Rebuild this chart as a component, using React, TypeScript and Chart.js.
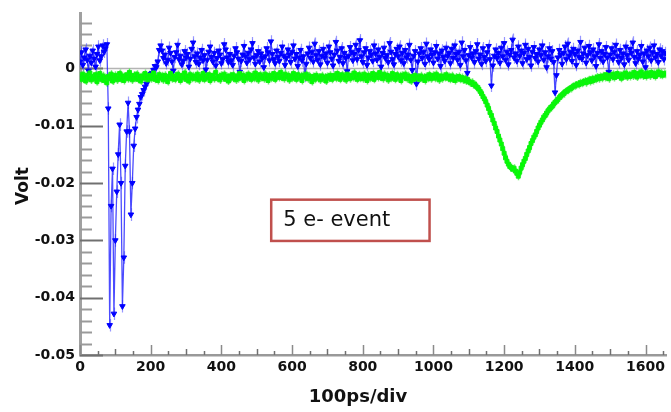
import React, { useEffect, useRef } from "react";
import { Chart, registerables } from "chart.js";

Chart.register(...registerables);

// sampling interval of the traces (x units, 100ps/div scale)
const TIME_STEP = 4;
const X_MIN = 0;
const X_MAX = 1658;
const Y_MIN = -0.05;
const Y_MAX = 0.0096;

const xTickValues = [0, 200, 400, 600, 800, 1000, 1200, 1400, 1600];
const yTickValues = [0, -0.01, -0.02, -0.03, -0.04, -0.05];

const xTitle = "100ps/div";
const yTitle = "Volt";
const annotationText = "5 e- event";

// half-height of the error bars drawn on each sample (Volt)
const blueError = 0.0011;
const greenError = 0.0007;

// blue trace (Volt), one value per TIME_STEP starting at x = 0
const blueVolts = [
  // 0 - 76
  0.0012, 0.0028, 0.0006, 0.0019, 0.0033, 0.0015, -0.0004, 0.0022, 0.001, 0.0031,
  0.0017, 0.0003, 0.0025, 0.0038, 0.0014, 0.0021, 0.004, 0.0029, 0.0035, 0.0042,
  // 80 - 228 (pulse)
  -0.007, -0.0448, -0.024, -0.0175, -0.0428, -0.03, -0.0215, -0.015, -0.0098, -0.02,
  -0.0415, -0.033, -0.017, -0.011, -0.006, -0.011, -0.0255, -0.02, -0.0135, -0.0105,
  -0.0085, -0.0072, -0.0062, -0.005, -0.0045, -0.0038, -0.0032, -0.0027, -0.002, -0.0015,
  -0.001, -0.0008, -0.0003, 0.0004, 0.0002, 0.0012, 0.0032, 0.004,
  // 232 - 1656
  0.0031, 0.0018, 0.0024, 0.0009, 0.0015, 0.0036, 0.0027, 0.0012, -0.0004, 0.002,
  0.0028, 0.0041, 0.0016, 0.0022, 0.0007, 0.0013, 0.003, 0.0019, 0.0025, 0.0003,
  0.0017, 0.0034, 0.0045, 0.0021, 0.0011, 0.0026, 0.0008, 0.0019, 0.0032, 0.0014,
  0.0023, -0.0002, 0.0015, 0.0029, 0.0038, 0.002, 0.0012, 0.0027, 0.0005, 0.0018,
  0.0031, 0.0024, 0.0009, 0.0016, 0.0042, 0.0033, 0.0019, 0.0011, 0.0025, 0.0014,
  0.0006, 0.0022, 0.0035, 0.0028, 0.0017, -0.0006, 0.0013, 0.0024, 0.0039, 0.0021,
  0.001, 0.0027, 0.0016, 0.0033, 0.0044, 0.0019, 0.0008, 0.0023, 0.003, 0.0012,
  0.0026, 0.0018, 0.0002, 0.0021, 0.0035, 0.0028, 0.0014, 0.0047, 0.0025, 0.0016,
  0.0009, 0.0031, 0.002, 0.0013, 0.0027, 0.0038, 0.0022, 0.0006, 0.0018, 0.0033,
  0.0024, 0.0011, 0.0029, 0.004, 0.0017, 0.0025, 0.0004, 0.0019, 0.0032, 0.0014,
  0.0021, -0.0013, 0.0008, 0.0026, 0.0036, 0.0018, 0.0029, 0.0012, 0.0043, 0.0023,
  0.0015, 0.003, 0.0007, 0.0022, 0.0034, 0.0019, 0.0026, 0.001, 0.0038, 0.0028,
  0.0017, 0.0005, 0.0024, 0.0046, 0.0031, 0.0013, 0.002, 0.0035, 0.0009, 0.0027,
  0.0018, -0.0005, 0.0022, 0.0037, 0.0029, 0.0014, 0.0025, 0.0041, 0.0016, 0.0032,
  0.0049, 0.0021, 0.0011, 0.0028, 0.0035, 0.0006, 0.0019, 0.003, 0.0024, 0.0013,
  0.004, 0.0026, 0.0015, 0.0033, 0.002, 0.0003, 0.0027, 0.0036, 0.0018, 0.0023,
  0.0011, 0.0044, 0.0029, 0.0016, 0.0007, 0.0025, 0.0034, 0.0021, 0.0038, 0.0014,
  0.0027, 0.0009, 0.0032, 0.0019, 0.0024, 0.0041, 0.0015, -0.0003, 0.0022, 0.003,
  -0.0027, 0.0012, 0.0026, 0.0035, 0.0018, 0.0029, 0.0008, 0.0043, 0.0021, 0.0016,
  0.0033, 0.0024, 0.001, 0.0028, 0.0039, 0.0017, 0.0026, 0.0004, 0.0031, 0.002,
  0.0013, 0.0036, 0.0022, 0.0027, 0.0009, 0.0034, 0.0018, 0.004, 0.0025, 0.0015,
  0.0029, 0.0006, 0.0045, 0.0021, 0.0032, 0.0014, -0.0008, 0.0023, 0.0037, 0.0019,
  0.0026, 0.0011, 0.003, 0.0042, 0.0017, 0.0024, 0.0008, 0.0035, 0.002, 0.0013,
  0.0028, 0.0039, 0.0016, -0.003, 0.0005, 0.0022, 0.0033, 0.0018, 0.0027, 0.001,
  0.0036, 0.0021, 0.0044, 0.0015, 0.0029, 0.0007, 0.0024, 0.0032, 0.005, 0.0019,
  0.0026, 0.0013, 0.0038, 0.0022, 0.0031, 0.0009, 0.0027, 0.0041, 0.0016, 0.0034,
  0.002, 0.0005, 0.0029, 0.0037, 0.0018, 0.0025, 0.0012, 0.0033, 0.0023, 0.004,
  0.0015, 0.0028, 0.0002, 0.0021, 0.0035, 0.0017, 0.003, 0.0011, -0.0042, -0.0012,
  0.0019, 0.0032, 0.0024, 0.0008, 0.0027, 0.0038, 0.0016, 0.0043, 0.0022, 0.0029,
  0.0013, 0.0034, 0.0025, 0.0006, 0.0031, 0.002, 0.0046, 0.0017, 0.0026, 0.0036,
  0.001, 0.0023, 0.0039, 0.0028, 0.0014, 0.0033, 0.0021, 0.0004, 0.0027, 0.0042,
  0.0018, 0.003, 0.0012, 0.0025, 0.0037, 0.0019, -0.0006, 0.0024, 0.0035, 0.0016,
  0.0029, 0.0041, 0.0022, 0.0011, 0.0032, 0.0018, 0.0026, 0.0007, 0.0038, 0.0023,
  0.0015, 0.0034, 0.0027, 0.0045, 0.002, 0.0009, 0.003, 0.0017, 0.0024, 0.0039,
  0.0012, 0.0026, 0.0002, 0.0031, 0.0021, 0.0036, 0.0014, 0.0028, 0.004, 0.0019,
  0.0025, 0.0011, 0.0033, 0.0022, 0.003, 0.0016, 0.0027,
];

// green trace (Volt), one value per TIME_STEP starting at x = 0
const greenVolts = [
  -0.0013, -0.0019, -0.001, -0.0016, -0.0022, -0.0012, -0.0017, -0.0008, -0.002, -0.0014,
  -0.0018, -0.0011, -0.0023, -0.0015, -0.0009, -0.0019, -0.0013, -0.0021, -0.0016, -0.0025,
  -0.0014, -0.0018, -0.001, -0.0022, -0.0015, -0.0012, -0.002, -0.0017, -0.0009, -0.0019,
  -0.0013, -0.0021, -0.0016, -0.0011, -0.0018, -0.0007, -0.0015, -0.002, -0.0012, -0.0017,
  -0.001, -0.0019, -0.0014, -0.0022, -0.0013, -0.0017, -0.0009, -0.0016, -0.002, -0.0012,
  -0.0018, -0.0014, -0.0008, -0.0019, -0.0015, -0.0021, -0.0011, -0.0017, -0.0013, -0.002,
  -0.0012, -0.0016, -0.0023, -0.0014, -0.0009, -0.0018, -0.0013, -0.0019, -0.0015, -0.001,
  -0.0017, -0.0021, -0.0012, -0.0016, -0.0008, -0.0019, -0.0014, -0.0022, -0.0011, -0.0017,
  -0.0013, -0.0018, -0.0015, -0.001, -0.002, -0.0014, -0.0017, -0.0009, -0.0019, -0.0013,
  -0.0016, -0.0011, -0.0021, -0.0015, -0.0012, -0.0018, -0.0007, -0.0017, -0.0014, -0.002,
  -0.0012, -0.0016, -0.001, -0.0019, -0.0014, -0.0022, -0.0013, -0.0017, -0.0011, -0.0015,
  -0.002, -0.0013, -0.0018, -0.0009, -0.0016, -0.0012, -0.0021, -0.0014, -0.0017, -0.001,
  -0.0015, -0.0019, -0.0012, -0.0017, -0.0008, -0.0014, -0.002, -0.0011, -0.0016, -0.0013,
  -0.0018, -0.001, -0.0015, -0.0021, -0.0012, -0.0017, -0.0014, -0.0009, -0.0019, -0.0013,
  -0.0011, -0.0016, -0.0007, -0.0014, -0.0018, -0.001, -0.0015, -0.0012, -0.002, -0.0013,
  -0.0017, -0.0009, -0.0014, -0.0019, -0.0011, -0.0016, -0.0013, -0.0021, -0.0012, -0.0015,
  -0.001, -0.0018, -0.0013, -0.0016, -0.0023, -0.0014, -0.0019, -0.0012, -0.0017, -0.0015,
  -0.002, -0.0013, -0.0018, -0.0015, -0.0022, -0.0014, -0.0017, -0.0012, -0.0019, -0.0016,
  -0.0012, -0.0017, -0.0009, -0.0015, -0.0019, -0.0011, -0.0016, -0.0013, -0.002, -0.001,
  -0.0015, -0.0018, -0.0012, -0.0016, -0.0008, -0.0014, -0.0019, -0.0011, -0.0017, -0.0013,
  -0.0018, -0.001, -0.0015, -0.0021, -0.0012, -0.0017, -0.0014, -0.0009, -0.0019, -0.0013,
  -0.0011, -0.0016, -0.0007, -0.0014, -0.0018, -0.001, -0.0015, -0.0012, -0.002, -0.0013,
  -0.0017, -0.0009, -0.0014, -0.0019, -0.0011, -0.0016, -0.0013, -0.0021, -0.0012, -0.0015,
  -0.001, -0.0018, -0.0013, -0.0016, -0.0022, -0.0014, -0.0019, -0.0012, -0.0017, -0.0015,
  -0.0019, -0.0013, -0.0018, -0.0015, -0.0021, -0.0014, -0.0017, -0.0011, -0.0018, -0.0016,
  -0.0012, -0.0017, -0.001, -0.0015, -0.002, -0.0013, -0.0018, -0.0014, -0.0016, -0.0011,
  -0.0017, -0.0014, -0.0019, -0.0013, -0.0016, -0.0021, -0.0015, -0.0018, -0.0014, -0.0019,
  // 1080 - 1436 (pulse)
  -0.0016, -0.002, -0.0017, -0.0022, -0.0019, -0.0023, -0.0025, -0.0024, -0.0028, -0.0027,
  -0.0031, -0.0033, -0.0036, -0.004, -0.0044, -0.0049, -0.0053, -0.0058, -0.0064, -0.007,
  -0.0077, -0.0082, -0.009, -0.0096, -0.0104, -0.011, -0.0118, -0.0125, -0.0132, -0.014,
  -0.0148, -0.0156, -0.0162, -0.0167, -0.0171, -0.0173, -0.0176, -0.0174, -0.0179, -0.0183,
  -0.0188, -0.0181, -0.0174, -0.0168, -0.0162, -0.0157, -0.015, -0.0144, -0.0138, -0.0131,
  -0.0126, -0.012, -0.0116, -0.011, -0.0104, -0.0099, -0.0094, -0.009, -0.0085, -0.0082,
  -0.0078, -0.0074, -0.0071, -0.0068, -0.0066, -0.0062, -0.0059, -0.0057, -0.0054, -0.0051,
  -0.0048, -0.0046, -0.0044, -0.0041, -0.004, -0.0038, -0.0036, -0.0035, -0.0033, -0.0031,
  -0.003, -0.0029, -0.0027, -0.0028, -0.0025, -0.0026, -0.0024, -0.0022, -0.0025, -0.0021,
  // 1440 - 1656
  -0.002, -0.0023, -0.0018, -0.0021, -0.0017, -0.0019, -0.0015, -0.0018, -0.0014, -0.0017,
  -0.0013, -0.0016, -0.0011, -0.0015, -0.0018, -0.0012, -0.0014, -0.001, -0.0016, -0.0013,
  -0.0009, -0.0014, -0.0012, -0.0017, -0.001, -0.0013, -0.0008, -0.0015, -0.0011, -0.0014,
  -0.001, -0.0013, -0.0007, -0.0012, -0.0015, -0.0009, -0.0012, -0.0006, -0.0013, -0.001,
  -0.0014, -0.0008, -0.0011, -0.0013, -0.0007, -0.0012, -0.0009, -0.0014, -0.001, -0.0006,
  -0.0011, -0.0008, -0.0012, -0.0009, -0.001,
];

const sampleTimes = blueVolts.map((_, i) => i * TIME_STEP);

const decorPlugin = {
  id: "decor",
  beforeDatasetsDraw(chart: any) {
    const { ctx, chartArea } = chart;
    const xs = chart.scales.x;
    const ys = chart.scales.y;
    ctx.save();
    // zero line
    const y0 = Math.round(ys.getPixelForValue(0)) + 0.5;
    ctx.strokeStyle = "#b4b4b4";
    ctx.lineWidth = 1.5;
    ctx.beginPath();
    ctx.moveTo(chartArea.left, y0);
    ctx.lineTo(chartArea.right, y0);
    ctx.stroke();
    // y ticks (inside)
    for (let k = -25; k <= 4; k++) {
      const v = k * 0.002;
      const py = Math.round(ys.getPixelForValue(v)) + 0.5;
      const major = k % 5 === 0;
      ctx.strokeStyle = major ? "#707070" : "#9a9a9a";
      ctx.lineWidth = 2;
      ctx.beginPath();
      ctx.moveTo(chartArea.left, py);
      ctx.lineTo(chartArea.left + (major ? 23 : 12), py);
      ctx.stroke();
    }
    // x ticks (inside)
    for (let k = 0; k <= 33; k++) {
      const v = k * 50;
      const px = Math.round(xs.getPixelForValue(v)) + 0.5;
      const len = k % 4 === 0 ? 10 : k % 2 === 0 ? 6 : 4;
      ctx.strokeStyle = k % 4 === 0 ? "#8a8a8a" : "#707070";
      ctx.lineWidth = 1.5;
      ctx.beginPath();
      ctx.moveTo(px, chartArea.bottom);
      ctx.lineTo(px, chartArea.bottom - len);
      ctx.stroke();
    }
    // error bars for each sample
    const drawBars = (vals: number[], err: number, color: string, w: number) => {
      ctx.strokeStyle = color;
      ctx.lineWidth = w;
      ctx.beginPath();
      vals.forEach((v, i) => {
        const px = Math.round(xs.getPixelForValue(sampleTimes[i])) + 0.5;
        ctx.moveTo(px, ys.getPixelForValue(v + err));
        ctx.lineTo(px, ys.getPixelForValue(v - err));
      });
      ctx.stroke();
    };
    drawBars(blueVolts, blueError, "rgba(80,80,255,0.6)", 1.2);
    drawBars(greenVolts, greenError, "rgba(60,235,60,0.75)", 1.5);
    ctx.restore();
  },
  afterDatasetsDraw(chart: any) {
    const { ctx } = chart;
    const xs = chart.scales.x;
    const ys = chart.scales.y;
    ctx.save();
    const x1 = xs.getPixelForValue(541);
    const x2 = xs.getPixelForValue(989);
    const y1 = ys.getPixelForValue(-0.0229);
    const y2 = ys.getPixelForValue(-0.0301);
    ctx.fillStyle = "#ffffff";
    ctx.fillRect(x1, y1, x2 - x1, y2 - y1);
    ctx.strokeStyle = "#c0504d";
    ctx.lineWidth = 2.5;
    ctx.strokeRect(x1, y1, x2 - x1, y2 - y1);
    ctx.fillStyle = "#111111";
    ctx.font = "21px 'DejaVu Sans'";
    ctx.textAlign = "left";
    ctx.textBaseline = "middle";
    ctx.fillText(annotationText, x1 + 12, (y1 + y2) / 2);
    ctx.restore();
  },
  afterDraw(chart: any) {
    const { ctx, chartArea } = chart;
    ctx.save();
    ctx.fillStyle = "#111111";
    ctx.font = "bold 18px 'DejaVu Sans'";
    ctx.textAlign = "center";
    ctx.textBaseline = "middle";
    ctx.fillText(xTitle, chartArea.left + 278, 397);
    ctx.translate(24, 186);
    ctx.rotate(-Math.PI / 2);
    ctx.font = "bold 17px 'DejaVu Sans'";
    ctx.fillText(yTitle, 0, 0);
    ctx.restore();
  },
};

export default function App() {
  const canvasRef = useRef<HTMLCanvasElement | null>(null);

  useEffect(() => {
    const canvas = canvasRef.current;
    if (!canvas) return;
    const blueData = sampleTimes.map((t, i) => ({ x: t, y: blueVolts[i] }));
    const greenData = sampleTimes.map((t, i) => ({ x: t, y: greenVolts[i] }));

    const chart = new Chart(canvas, {
      type: "line",
      data: {
        datasets: [
          {
            label: "green",
            data: greenData,
            showLine: true,
            borderColor: "rgba(30,245,30,0.9)",
            borderWidth: 2,
            pointStyle: "rect",
            pointRadius: 2.8,
            pointBackgroundColor: "#00ff00",
            pointBorderColor: "#10f010",
            pointBorderWidth: 1,
            tension: 0,
          },
          {
            label: "blue",
            data: blueData,
            showLine: true,
            borderColor: "rgba(30,30,255,0.8)",
            borderWidth: 1.3,
            pointStyle: "triangle",
            rotation: 180,
            pointRadius: 3.2,
            pointBackgroundColor: "#0000ff",
            pointBorderColor: "#0000ff",
            pointBorderWidth: 1,
            tension: 0,
          },
        ],
      },
      options: {
        animation: false,
        responsive: false,
        devicePixelRatio: 1,
        layout: { padding: { top: 7, left: 0, right: 0, bottom: 0 } },
        plugins: {
          legend: { display: false },
          tooltip: { enabled: false },
        },
        scales: {
          x: {
            type: "linear",
            min: X_MIN,
            max: X_MAX,
            grid: { display: false, drawTicks: false },
            border: { display: true, color: "#999999", width: 2.5 },
            afterBuildTicks: (s: any) => {
              s.ticks = xTickValues.map((v) => ({ value: v }));
            },
            afterFit: (s: any) => {
              s.height = 57;
            },
            ticks: {
              color: "#111111",
              font: { family: "'DejaVu Sans'", size: 14, weight: "bold" },
              padding: 4,
              maxRotation: 0,
              autoSkip: false,
              callback: (v: any) => String(v),
            },
          },
          y: {
            type: "linear",
            min: Y_MIN,
            max: Y_MAX,
            grid: { display: false, drawTicks: false },
            border: { display: true, color: "#a0a0a0", width: 3 },
            afterBuildTicks: (s: any) => {
              s.ticks = yTickValues.map((v) => ({ value: v }));
            },
            afterFit: (s: any) => {
              s.width = 80;
            },
            ticks: {
              color: "#111111",
              font: { family: "'DejaVu Sans'", size: 14, weight: "bold" },
              padding: 5,
              autoSkip: false,
              callback: (v: any) => String(Number(Number(v).toFixed(2))),
            },
          },
        },
      },
      plugins: [decorPlugin],
    });
    return () => chart.destroy();
  }, []);

  return (
    <div style={{ position: "absolute", left: 0, top: 0, width: 671, height: 412, background: "#fff" }}>
      <canvas ref={canvasRef} width={671} height={412} style={{ display: "block", width: 671, height: 412 }} />
    </div>
  );
}
